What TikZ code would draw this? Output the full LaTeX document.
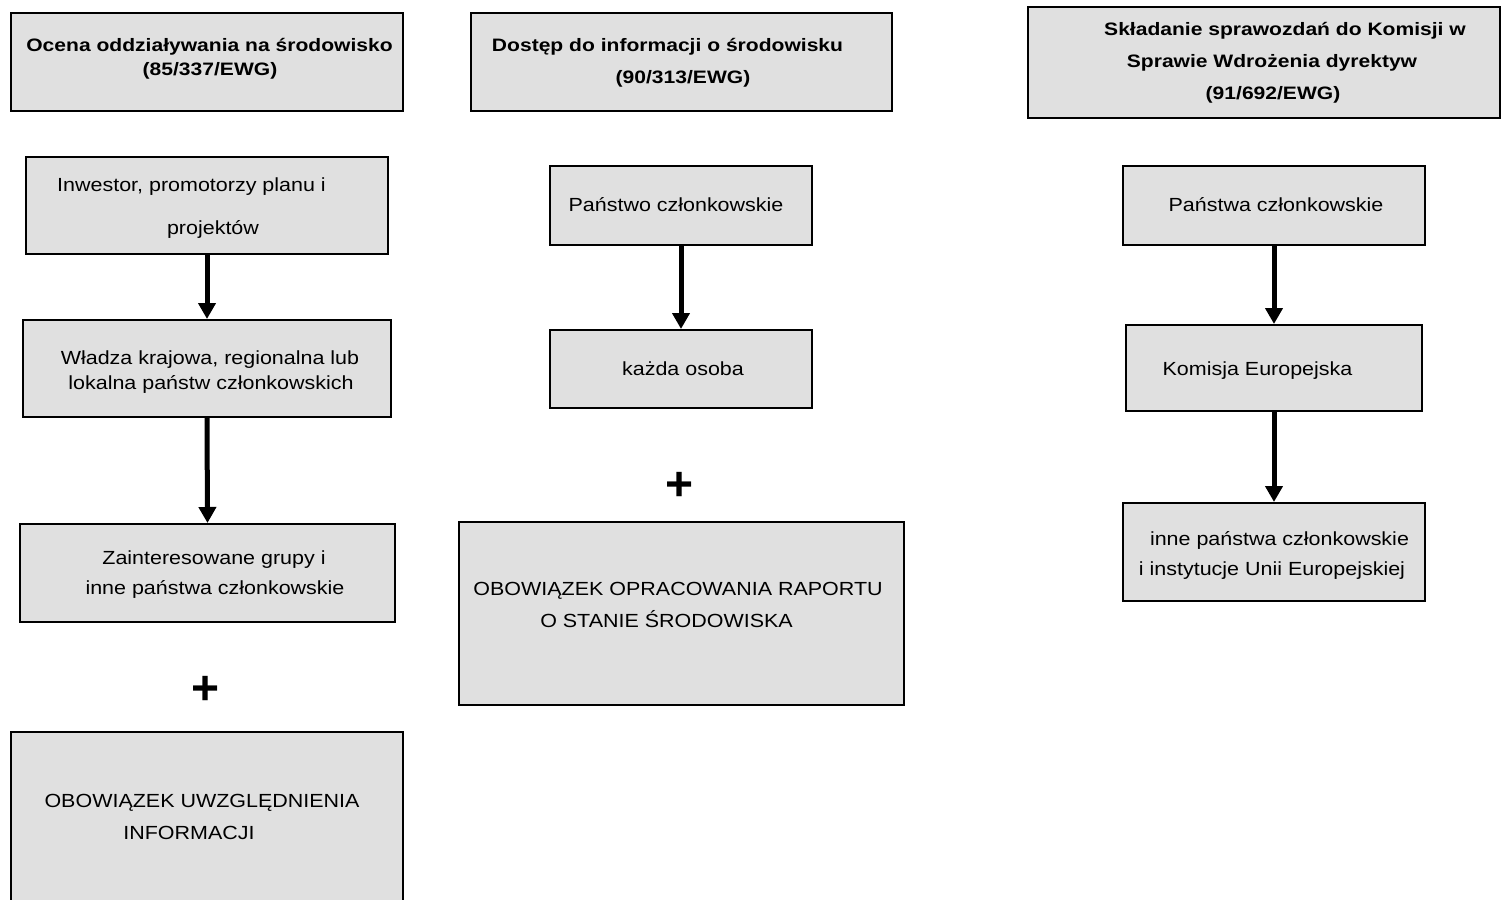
\documentclass[tikz,border=0pt]{standalone}
\usepackage{fontspec}
\setmainfont{Liberation Sans}
\newfontfamily\regfont[FakeStretch=1.13]{Liberation Sans}
\newfontfamily\boldfont[FakeStretch=1.17]{Liberation Sans Bold}
\usetikzlibrary{arrows.meta}
\definecolor{boxgray}{HTML}{E0E0E0}
\newcommand{\mkbox}[5]{\node[box, minimum width={#4-#2}, minimum height={#5-#3}] (#1) at ({(#2+#4)/2},{(#3+#5)/2}) {};}
\begin{document}
\begin{tikzpicture}[x=1pt,y=-1pt,
  box/.style={draw=black, line width=2pt, fill=boxgray, inner sep=0pt},
  txt/.style={font=\regfont\fontsize{19}{22}\selectfont, inner sep=0pt, anchor=mid},
  ttl/.style={font=\boldfont\fontsize{18}{21}\selectfont, inner sep=0pt, anchor=mid},
  plus/.style={font=\bfseries\fontsize{48}{48}\selectfont, inner sep=0pt, anchor=center},
  arr/.style={line width=5pt, -{Triangle[width=17pt,length=16pt]}}]
\useasboundingbox (0,0) rectangle (1501,899);
\clip (0,0) rectangle (1501,899);
% boxes
\mkbox{t1}{11}{13}{403}{111}
\mkbox{t2}{471}{13}{892}{111}
\mkbox{t3}{1028}{7}{1500}{118}
\mkbox{inv}{26}{157}{388}{254}
\mkbox{wl}{23}{320}{391}{417}
\mkbox{zg}{20}{524}{395}{622}
\mkbox{ob1}{11}{732}{403}{910}
\mkbox{pc}{550}{166}{812}{245}
\mkbox{ko}{550}{330}{812}{408}
\mkbox{ob2}{459}{522}{904}{705}
\mkbox{pcr}{1123}{166}{1425}{245}
\mkbox{ke}{1126}{325}{1422}{411}
\mkbox{ip}{1123}{503}{1425}{601}
% texts
\node[ttl] (t1a) at (209.5,49) {Ocena oddziaływania na środowisko};
\node[ttl] (t1b) at (210,73) {(85/337/EWG)};
\node[ttl] (t2a) at (667.5,49) {Dostęp do informacji o środowisku};
\node[ttl] (t2b) at (683,81) {(90/313/EWG)};
\node[ttl] (t3a) at (1285,33) {Składanie sprawozdań do Komisji w};
\node[ttl] (t3b) at (1272,65) {Sprawie Wdrożenia dyrektyw};
\node[ttl] (t3c) at (1273,97) {(91/692/EWG)};
\node[txt] (inva) at (191.5,189) {Inwestor, promotorzy planu i};
\node[txt] (invb) at (213,232) {projektów};
\node[txt] (wla) at (210,362) {Władza krajowa, regionalna lub};
\node[txt] (wlb) at (211,387) {lokalna państw członkowskich};
\node[txt] (zga) at (214,562) {Zainteresowane grupy i};
\node[txt] (zgb) at (215,592) {inne państwa członkowskie};
\node[txt] (ob1a) at (202,805) {OBOWIĄZEK UWZGLĘDNIENIA};
\node[txt] (ob1b) at (189,837) {INFORMACJI};
\node[txt] (pct) at (676,209) {Państwo członkowskie};
\node[txt] (kot) at (683,373) {każda osoba};
\node[txt] (ob2a) at (678,593) {OBOWIĄZEK OPRACOWANIA RAPORTU};
\node[txt] (ob2b) at (666.5,625) {O STANIE ŚRODOWISKA};
\node[txt] (pcrt) at (1276,209) {Państwa członkowskie};
\node[txt] (ket) at (1257.5,373) {Komisja Europejska};
\node[txt] (ipa) at (1279.5,543) {inne państwa członkowskie};
\node[txt] (ipb) at (1272,573) {i instytucje Unii Europejskiej};
\node[plus] (p1) at (205.5,690) {+};
\node[plus] (p2) at (680,486) {+};
% arrows
\draw[arr] (inv.south) -- (wl.north);
\draw[arr] (wl.south) -- (zg.north);
\draw[arr] (pc.south) -- (ko.north);
\draw[arr] (pcr.south) -- (ke.north);
\draw[arr] (ke.south) -- (ip.north);
\end{tikzpicture}
\end{document}
